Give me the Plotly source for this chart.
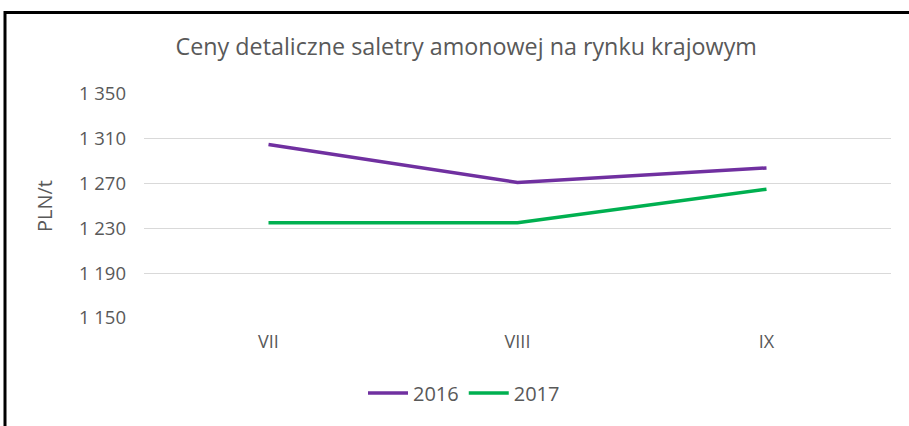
import plotly.graph_objects as go

categories = ["VII", "VIII", "IX"]
values_2016 = [1305, 1271, 1284]
values_2017 = [1235, 1235, 1265]
y_ticks = [1150, 1190, 1230, 1270, 1310, 1350]

fig = go.Figure()
fig.add_trace(go.Scatter(x=categories, y=values_2016, mode="lines", name="2016",
                         line=dict(color="#7030A0", width=3.5)))
fig.add_trace(go.Scatter(x=categories, y=values_2017, mode="lines", name="2017",
                         line=dict(color="#00B050", width=3.5)))

W, H = 909, 426
L, R, T, B = 144, 18, 94, 108
pw, ph = W - L - R, H - T - B
def px_x(x): return (x - L) / pw
def px_y(y): return (H - B - y) / ph

fig.add_shape(type="line", xref="paper", yref="paper", x0=px_x(5), x1=px_x(960),
              y0=px_y(12.5), y1=px_y(12.5), line=dict(color="black", width=3))
fig.add_shape(type="line", xref="paper", yref="paper", x0=px_x(5), x1=px_x(5),
              y0=px_y(11), y1=px_y(480), line=dict(color="black", width=3))

fig.update_layout(
    width=W, height=H,
    margin=dict(l=L, r=R, t=T, b=B),
    paper_bgcolor="white", plot_bgcolor="white",
    separators=". ",
    font=dict(family="Open Sans", color="#595959", size=18),
    title=dict(text="Ceny detaliczne saletry amonowej na rynku krajowym",
               x=(172 + 755) / 2 / W + 0.003, xanchor="center", y=1 - 47 / H, yanchor="middle",
               font=dict(size=23.3, color="#595959")),
    xaxis=dict(range=[-0.5, 2.5], showgrid=False, showline=False, zeroline=False,
               ticks="", ticklabelstandoff=11, tickfont=dict(size=18)),
    yaxis=dict(range=[1150, 1350], tickvals=y_ticks, tickformat=",d",
               showgrid=True, gridcolor="#D9D9D9", gridwidth=1, zeroline=False,
               showline=False, ticks="", ticklabelstandoff=17, tickfont=dict(size=18.5),
               title=dict(text="PLN/t", standoff=20, font=dict(size=20))),
    legend=dict(orientation="h", x=px_x(464), xanchor="center", y=px_y(393),
                yanchor="middle", font=dict(size=20), itemwidth=40),
    showlegend=True,
)

fig.write_html("out.html", config={"displayModeBar": False},
               post_script="document.body.style.margin='0';document.body.style.overflow='hidden';")
